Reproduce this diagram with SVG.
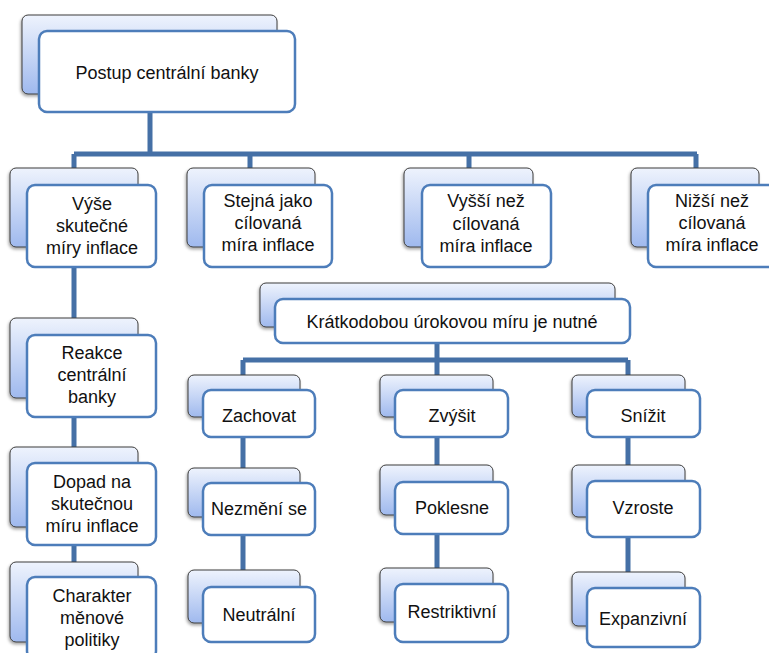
<svg xmlns="http://www.w3.org/2000/svg" width="769" height="653" viewBox="0 0 769 653">
<defs>
<linearGradient id="g" x1="0" y1="0" x2="0" y2="1">
<stop offset="0" stop-color="#eef3fd"/>
<stop offset="1" stop-color="#9fb9ee"/>
</linearGradient>
<filter id="sh" x="-10%" y="-10%" width="120%" height="130%">
<feDropShadow dx="-1" dy="2" stdDeviation="1.5" flood-color="#000" flood-opacity="0.35"/>
</filter>
</defs>
<style>
.bk{fill:url(#g);stroke:#3c3c3c;stroke-width:1;filter:url(#sh)}
.fr{fill:#ffffff;stroke:#4d7dba;stroke-width:2.5}
.ln{fill:none;stroke:#4570a6;stroke-width:5}
text{font-family:"Liberation Sans",Arial,sans-serif;font-size:18px;fill:#111;text-anchor:middle}
</style>
<rect width="769" height="653" fill="#ffffff"/>
<g id="connectors">
<path class="ln" d="M150 112V154M74 154H697M74 154V580M250 154V190M469 154V190M696 154V190"/>
<path class="ln" d="M437 343V360M243 360H628M243 360V590M437 360V590M628 360V590"/>
</g>
<g id="n-postup">
<rect class="bk" x="22" y="15" width="255" height="79" rx="6"/>
<rect class="fr" x="39" y="31" width="256" height="81" rx="8"/>
<text x="167" y="79">Postup centrální banky</text>
</g>
<g id="n-vyse">
<rect class="bk" x="10" y="168" width="128" height="79" rx="6"/>
<rect class="fr" x="27" y="185" width="129" height="82" rx="8"/>
<text x="92" y="210">Výše</text>
<text x="92" y="232">skutečné</text>
<text x="92" y="254">míry inflace</text>
</g>
<g id="n-stejna">
<rect class="bk" x="187" y="168" width="128" height="79" rx="6"/>
<rect class="fr" x="204" y="185" width="128" height="82" rx="8"/>
<text x="268" y="207">Stejná jako</text>
<text x="268" y="229">cílovaná</text>
<text x="268" y="251">míra inflace</text>
</g>
<g id="n-vyssi">
<rect class="bk" x="404" y="168" width="129" height="79" rx="6"/>
<rect class="fr" x="422" y="185" width="129" height="82" rx="8"/>
<text x="486" y="207">Vyšší než</text>
<text x="486" y="230">cílovaná</text>
<text x="486" y="252">míra inflace</text>
</g>
<g id="n-nizsi">
<rect class="bk" x="631" y="168" width="128" height="79" rx="6"/>
<rect class="fr" x="648" y="185" width="128" height="82" rx="8"/>
<text x="712" y="207">Nižší než</text>
<text x="712" y="229">cílovaná</text>
<text x="712" y="251">míra inflace</text>
</g>
<g id="n-reakce">
<rect class="bk" x="10" y="318" width="128" height="80" rx="6"/>
<rect class="fr" x="27" y="335" width="129" height="82" rx="8"/>
<text x="92" y="359">Reakce</text>
<text x="92" y="381">centrální</text>
<text x="92" y="403">banky</text>
</g>
<g id="n-dopad">
<rect class="bk" x="10" y="447" width="128" height="80" rx="6"/>
<rect class="fr" x="27" y="463" width="129" height="82" rx="8"/>
<text x="92" y="488">Dopad na</text>
<text x="92" y="510">skutečnou</text>
<text x="92" y="532">míru inflace</text>
</g>
<g id="n-charakter">
<rect class="bk" x="10" y="562" width="128" height="80" rx="6"/>
<rect class="fr" x="27" y="577" width="129" height="82" rx="8"/>
<text x="92" y="602">Charakter</text>
<text x="92" y="624">měnové</text>
<text x="92" y="646">politiky</text>
</g>
<g id="n-kratkodobou">
<rect class="bk" x="260" y="283" width="355" height="44" rx="6"/>
<rect class="fr" x="275" y="299" width="355" height="44" rx="8"/>
<text x="452" y="328">Krátkodobou úrokovou míru je nutné</text>
</g>
<g id="n-zachovat">
<rect class="bk" x="188" y="375" width="112" height="42" rx="6"/>
<rect class="fr" x="203" y="390" width="112" height="47" rx="8"/>
<text x="259" y="422">Zachovat</text>
</g>
<g id="n-zvysit">
<rect class="bk" x="380" y="375" width="113" height="42" rx="6"/>
<rect class="fr" x="395" y="390" width="113" height="47" rx="8"/>
<text x="452" y="422">Zvýšit</text>
</g>
<g id="n-snizit">
<rect class="bk" x="572" y="375" width="113" height="42" rx="6"/>
<rect class="fr" x="587" y="390" width="113" height="47" rx="8"/>
<text x="643" y="422">Snížit</text>
</g>
<g id="n-nezmeni">
<rect class="bk" x="188" y="468" width="112" height="49" rx="6"/>
<rect class="fr" x="203" y="483" width="112" height="52" rx="8"/>
<text x="259" y="515">Nezmění se</text>
</g>
<g id="n-poklesne">
<rect class="bk" x="380" y="465" width="113" height="50" rx="6"/>
<rect class="fr" x="395" y="482" width="113" height="52" rx="8"/>
<text x="452" y="514">Poklesne</text>
</g>
<g id="n-vzroste">
<rect class="bk" x="572" y="465" width="113" height="52" rx="6"/>
<rect class="fr" x="587" y="481" width="113" height="56" rx="8"/>
<text x="643" y="514">Vzroste</text>
</g>
<g id="n-neutralni">
<rect class="bk" x="188" y="570" width="112" height="53" rx="6"/>
<rect class="fr" x="203" y="587" width="112" height="55" rx="8"/>
<text x="259" y="621">Neutrální</text>
</g>
<g id="n-restriktivni">
<rect class="bk" x="380" y="568" width="113" height="54" rx="6"/>
<rect class="fr" x="395" y="584" width="113" height="58" rx="8"/>
<text x="452" y="618">Restriktivní</text>
</g>
<g id="n-expanzivni">
<rect class="bk" x="572" y="572" width="113" height="54" rx="6"/>
<rect class="fr" x="587" y="588" width="113" height="59" rx="8"/>
<text x="643" y="625">Expanzivní</text>
</g>
</svg>
